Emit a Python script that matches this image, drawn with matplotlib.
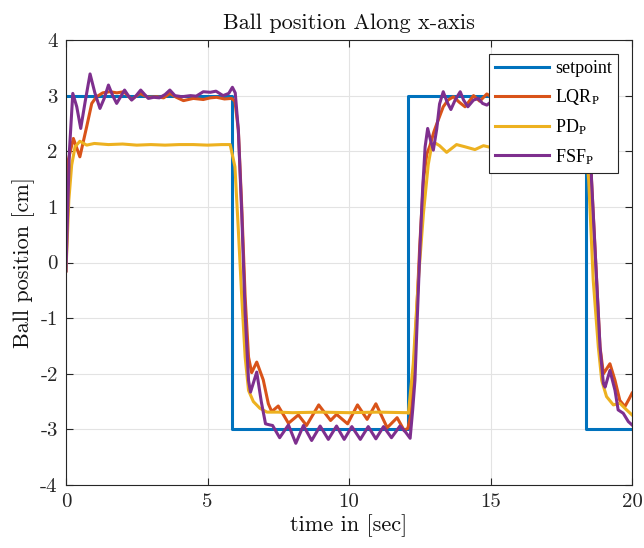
import matplotlib
matplotlib.use("Agg")
import matplotlib.pyplot as plt

plt.rcParams['font.family'] = ['cmr10', 'DejaVu Serif']
plt.rcParams['mathtext.fontset'] = 'custom'
plt.rcParams['mathtext.rm'] = 'Liberation Serif'
plt.rcParams['mathtext.it'] = 'Liberation Serif:italic'
plt.rcParams['mathtext.bf'] = 'Liberation Serif:bold'
plt.rcParams['axes.unicode_minus'] = False

# ---------------- data ----------------
t_sp = [0, 5.85, 12.1, 18.37, 20]
sp = [3, -3, 3, -3, -3]

t_lqr = [0, 0.08, 0.26, 0.49, 0.73, 0.91, 1.08, 1.3, 1.55, 1.8, 2.05, 2.32, 2.61, 2.9,
         3.2, 3.45, 3.67, 3.9, 4.15, 4.5, 4.85, 5.1, 5.32, 5.6, 5.85, 5.97, 6.09, 6.21,
         6.33, 6.45, 6.56, 6.74, 6.97, 7.15, 7.27, 7.5, 7.86, 8.21, 8.5, 8.93, 9.35,
         9.56, 9.95, 10.3, 10.64, 10.95, 11.35, 11.7, 11.95, 12.08, 12.2, 12.3, 12.39,
         12.5, 12.63, 12.75, 12.86, 13.0, 13.1, 13.33, 13.5, 13.69, 13.9, 14.1, 14.4,
         14.62, 14.87, 15.1, 15.5, 16.0, 16.5, 17.0, 17.5, 18.0, 18.4, 18.5, 18.57,
         18.75, 18.87, 18.99, 19.22, 19.4, 19.57, 19.75, 19.9, 20.0]
lqr = [-0.15, 1.84, 2.23, 1.90, 2.44, 2.86, 2.98, 3.05, 3.07, 3.05, 3.07, 2.93, 3.04, 2.97,
       2.98, 2.96, 3.04, 2.97, 2.91, 2.95, 2.93, 2.96, 2.97, 2.94, 2.95, 2.90, 2.38, 1.00,
       -0.62, -1.70, -1.98, -1.79, -2.11, -2.54, -2.68, -2.58, -2.89, -2.74, -2.93, -2.56, -2.84,
       -2.73, -2.90, -2.56, -2.82, -2.54, -2.97, -2.79, -3.02, -2.98, -2.71, -1.80, -0.92,
       0.30, 1.48, 1.95, 2.10, 2.35, 2.49, 2.80, 2.92, 2.98, 2.88, 2.80, 3.00,
       2.90, 3.03, 2.95, 2.98, 2.93, 2.97, 2.95, 2.98, 2.95, 2.95, 2.70, 1.48,
       -0.32, -1.52, -2.00, -1.82, -2.12, -2.48, -2.59, -2.45, -2.35]

t_pd = [0, 0.1, 0.2, 0.32, 0.49, 0.73, 1.0, 1.5, 2.0, 2.5, 3.0, 3.5, 4.0, 4.5, 5.0, 5.5,
        5.8, 5.97, 6.09, 6.21, 6.33, 6.45, 6.62, 6.85, 7.1, 7.5, 8.0, 9.0, 10.0, 11.0,
        12.05, 12.1, 12.27, 12.45, 12.63, 12.8, 12.92, 13.04, 13.2, 13.45, 13.8, 14.1,
        14.45, 14.75, 15.0, 15.5, 16.0, 16.5, 17.0, 17.5, 18.0, 18.37, 18.47, 18.63,
        18.81, 18.93, 19.1, 19.34, 19.57, 19.81, 20.0]
pd_ = [-0.15, 1.12, 1.75, 2.08, 2.18, 2.11, 2.14, 2.12, 2.13, 2.11, 2.12, 2.11, 2.12, 2.12, 2.11, 2.12,
       2.12, 1.72, 0.58, -0.62, -1.70, -2.30, -2.50, -2.62, -2.69, -2.69, -2.70, -2.69, -2.70, -2.69,
       -2.70, -2.71, -1.82, -0.32, 0.88, 1.76, 2.10, 2.15, 2.10, 1.98, 2.12, 2.08,
       2.03, 2.10, 2.07, 2.08, 2.06, 2.07, 2.06, 2.07, 2.07, 2.07, 1.48, -0.32,
       -1.52, -2.12, -2.41, -2.56, -2.53, -2.65, -2.74]

t_fsf = [0, 0.12, 0.24, 0.38, 0.52, 0.68, 0.85, 1.02, 1.2, 1.35, 1.5, 1.65, 1.79, 1.93,
         2.07, 2.2, 2.32, 2.48, 2.64, 2.78, 2.91, 3.1, 3.3, 3.5, 3.67, 3.85, 4.1, 4.4,
         4.6, 4.85, 5.1, 5.3, 5.55, 5.75, 5.88, 5.98, 6.09, 6.21, 6.33, 6.45, 6.52, 6.6,
         6.74, 6.9, 7.05, 7.2, 7.3, 7.55, 7.86, 8.12, 8.39, 8.68, 8.98, 9.27, 9.56, 9.83,
         10.1, 10.4, 10.68, 10.95, 11.22, 11.5, 11.8, 12.0, 12.16, 12.25, 12.33, 12.42,
         12.51, 12.6, 12.69, 12.78, 12.88, 12.98, 13.1, 13.2, 13.33, 13.47, 13.6, 13.75,
         13.93, 14.05, 14.2, 14.4, 14.57, 14.72, 14.87, 15.05, 15.3, 15.6, 16.0, 16.4,
         16.8, 17.2, 17.6, 18.0, 18.3, 18.45, 18.57, 18.75, 18.87, 18.99, 19.05, 19.22,
         19.4, 19.51, 19.69, 19.87, 20.0]
fsf = [-0.15, 2.00, 3.04, 2.80, 2.41, 2.90, 3.39, 3.05, 2.77, 2.95, 3.19, 3.00, 2.86, 2.98,
       3.10, 3.00, 2.92, 3.00, 3.10, 3.02, 2.95, 2.97, 2.96, 3.02, 3.10, 3.00, 2.98, 3.00,
       2.99, 3.07, 3.06, 3.08, 3.00, 3.04, 3.15, 3.05, 2.38, 0.88, -0.92, -2.12, -2.33, -2.20,
       -1.97, -2.50, -2.90, -2.92, -2.93, -3.15, -2.92, -3.25, -2.93, -3.20, -2.94, -3.18, -2.94, -3.18,
       -2.95, -3.18, -2.95, -3.17, -2.95, -3.15, -2.94, -3.05, -3.16, -2.65, -2.12, -0.90,
       0.28, 1.30, 2.08, 2.41, 2.20, 2.02, 2.40, 2.85, 3.07, 2.88, 2.75, 2.92,
       3.07, 2.92, 2.80, 2.92, 2.95, 2.86, 2.83, 2.90, 2.97, 2.92, 2.98, 2.93,
       2.98, 2.95, 2.98, 2.95, 3.00, 2.90, 1.48, -0.32, -1.52, -2.18, -2.24, -1.94,
       -2.30, -2.65, -2.71, -2.86, -2.92]

labels = ['setpoint', r'LQR$_{\mathrm{P}}$', r'PD$_{\mathrm{P}}$', r'FSF$_{\mathrm{P}}$']
colors = ['#0072BD', '#D95319', '#EDB120', '#7E2F8E']
x_ticks = [0, 5, 10, 15, 20]
x_tick_labels = ['0', '5', '10', '15', '20']
y_ticks = [-4, -3, -2, -1, 0, 1, 2, 3, 4]
y_tick_labels = ['-4', '-3', '-2', '-1', '0', '1', '2', '3', '4']

# ---------------- figure ----------------
fig = plt.figure(figsize=(6.44, 5.48), dpi=100)
ax = fig.add_axes([66 / 644, 63 / 548, 566 / 644, 445 / 548])

lw = 2.2
ax.plot(t_sp, sp, drawstyle='steps-post', color=colors[0], lw=lw, label=labels[0])
ax.plot(t_lqr, lqr, color=colors[1], lw=lw, label=labels[1])
ax.plot(t_pd, pd_, color=colors[2], lw=lw, label=labels[2])
ax.plot(t_fsf, fsf, color=colors[3], lw=lw, label=labels[3])

ax.set_xlim(0, 20)
ax.set_ylim(-4, 4)
ax.set_xticks(x_ticks)
ax.set_xticklabels(x_tick_labels)
ax.set_yticks(y_ticks)
ax.set_yticklabels(y_tick_labels)

spine_c = '#262626'
for s in ax.spines.values():
    s.set_color(spine_c)
    s.set_linewidth(0.8)
ax.tick_params(direction='in', top=True, right=True, length=5, width=0.8,
               colors=spine_c, labelsize=15, pad=6)
ax.grid(True, color='#e3e3e3', lw=0.8)
ax.set_axisbelow(True)

ax.set_title('Ball position Along x-axis', fontsize=16, color='#111111', pad=8)
ax.set_xlabel('time in [sec]', fontsize=16, color='#111111', labelpad=2)
ax.set_ylabel('Ball position [cm]', fontsize=16, color='#111111', labelpad=4)

leg = ax.legend(loc='upper right', bbox_to_anchor=(1 - 14 / 566, 1 - 14 / 445),
                borderaxespad=0, prop={'family': 'Liberation Serif', 'size': 13},
                frameon=True, fancybox=False,
                framealpha=1, edgecolor='#262626', handlelength=3.0,
                handletextpad=0.3, labelspacing=0.55, borderpad=0.35)
leg.get_frame().set_linewidth(0.8)

fig.savefig('out.png', dpi=100)
